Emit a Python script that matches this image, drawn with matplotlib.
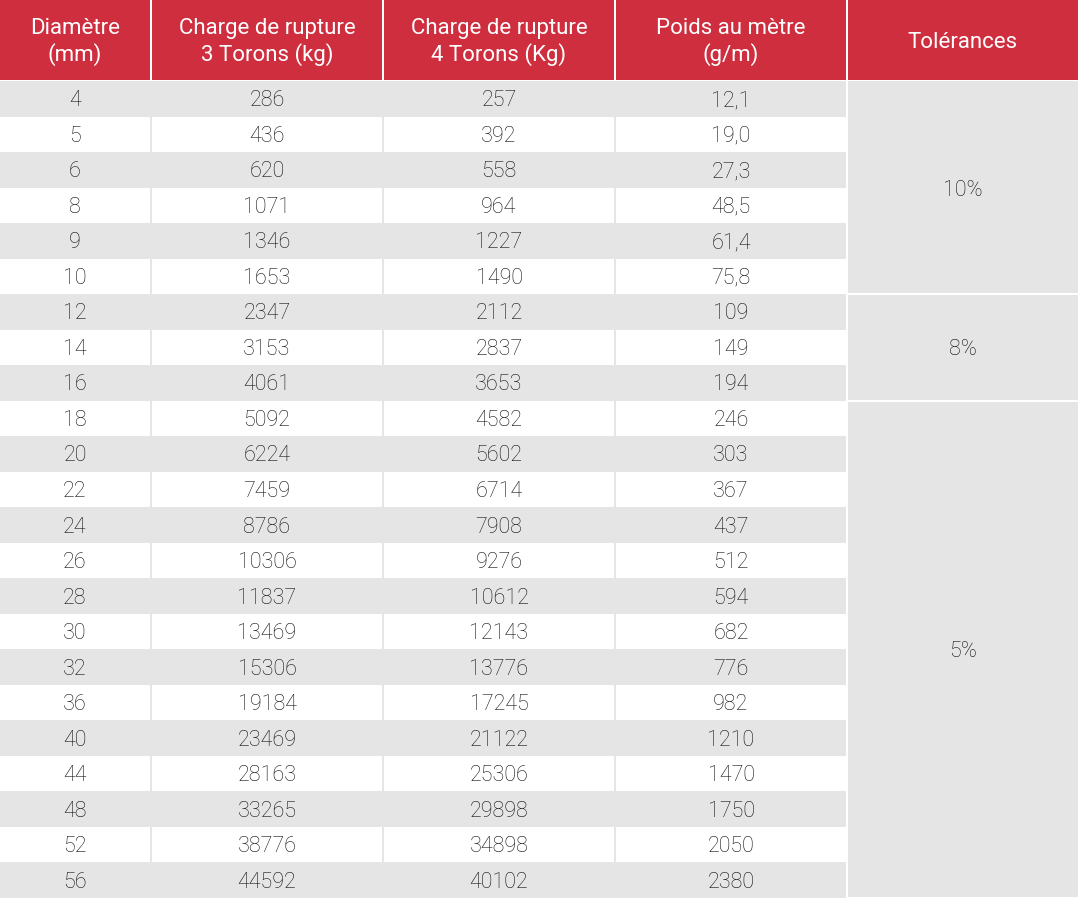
import matplotlib
matplotlib.use('Agg')
import matplotlib.pyplot as plt
from matplotlib.patches import Rectangle

headers = ['Diamètre\n(mm)', 'Charge de rupture\n3 Torons (kg)',
           'Charge de rupture\n4 Torons (Kg)', 'Poids au mètre\n(g/m)', 'Tolérances']
diametre = ['4', '5', '6', '8', '9', '10', '12', '14', '16', '18', '20', '22',
            '24', '26', '28', '30', '32', '36', '40', '44', '48', '52', '56']
charge_3 = ['286', '436', '620', '1071', '1346', '1653', '2347', '3153', '4061',
            '5092', '6224', '7459', '8786', '10306', '11837', '13469', '15306',
            '19184', '23469', '28163', '33265', '38776', '44592']
charge_4 = ['257', '392', '558', '964', '1227', '1490', '2112', '2837', '3653',
            '4582', '5602', '6714', '7908', '9276', '10612', '12143', '13776',
            '17245', '21122', '25306', '29898', '34898', '40102']
poids = ['12,1', '19,0', '27,3', '48,5', '61,4', '75,8', '109', '149', '194',
         '246', '303', '367', '437', '512', '594', '682', '776', '982', '1210',
         '1470', '1750', '2050', '2380']
tol_labels = ['10%', '8%', '5%']
tol_rows = [6, 3, 14]   # number of rows each tolerance spans

RED = '#cf2e3f'
GREY = '#e5e5e5'
TXT = '#111111'
plt.rcParams['font.family'] = ['Roboto', 'DejaVu Sans']

W, H = 1080, 898
fig = plt.figure(figsize=(W / 100, H / 100), dpi=100)
ax = fig.add_axes([0, 0, 1, 1])
ax.set_xlim(0, W)
ax.set_ylim(H, 0)
ax.axis('off')

col_x = [0, 152, 384, 616, 848]
col_w = [150, 230, 230, 230, 230]
head_h = 80
body_top = 81
row_h = (H - body_top) / len(diametre)

# header
for x, w, txt in zip(col_x, col_w, headers):
    ax.add_patch(Rectangle((x, 0), w, head_h, color=RED, lw=0))
    ax.text(x + w / 2, 42, txt, color='white', ha='center', va='center',
            fontsize=16, linespacing=1.22)

# body rows (first four columns)
columns = [diametre, charge_3, charge_4, poids]
for i in range(len(diametre)):
    y = body_top + i * row_h
    ax.add_patch(Rectangle((0, y), 846, row_h, color=GREY, lw=0))
    if i % 2 == 1:
        for x, w in zip(col_x[:4], col_w[:4]):
            ax.add_patch(Rectangle((x, y + 0.5), w, row_h - 1, color='white', lw=0))
    for x, w, col in zip(col_x[:4], col_w[:4], columns):
        ax.text(x + w / 2, y + row_h / 2 + 2, col[i], color=TXT, ha='center',
                va='center', fontsize=15.5, fontweight='light')

# merged tolerance cells
start = 0
for lab, n in zip(tol_labels, tol_rows):
    y0 = body_top + start * row_h
    y1 = body_top + (start + n) * row_h
    top = y0 if start == 0 else y0 + 1
    ax.add_patch(Rectangle((col_x[4], top), col_w[4], y1 - top - 1, color=GREY, lw=0))
    ax.text(col_x[4] + col_w[4] / 2, (y0 + y1) / 2 + 2.5, lab, color=TXT, ha='center',
            va='center', fontsize=15.5, fontweight='light')
    start += n

fig.savefig('out.png', dpi=100, facecolor='white')
